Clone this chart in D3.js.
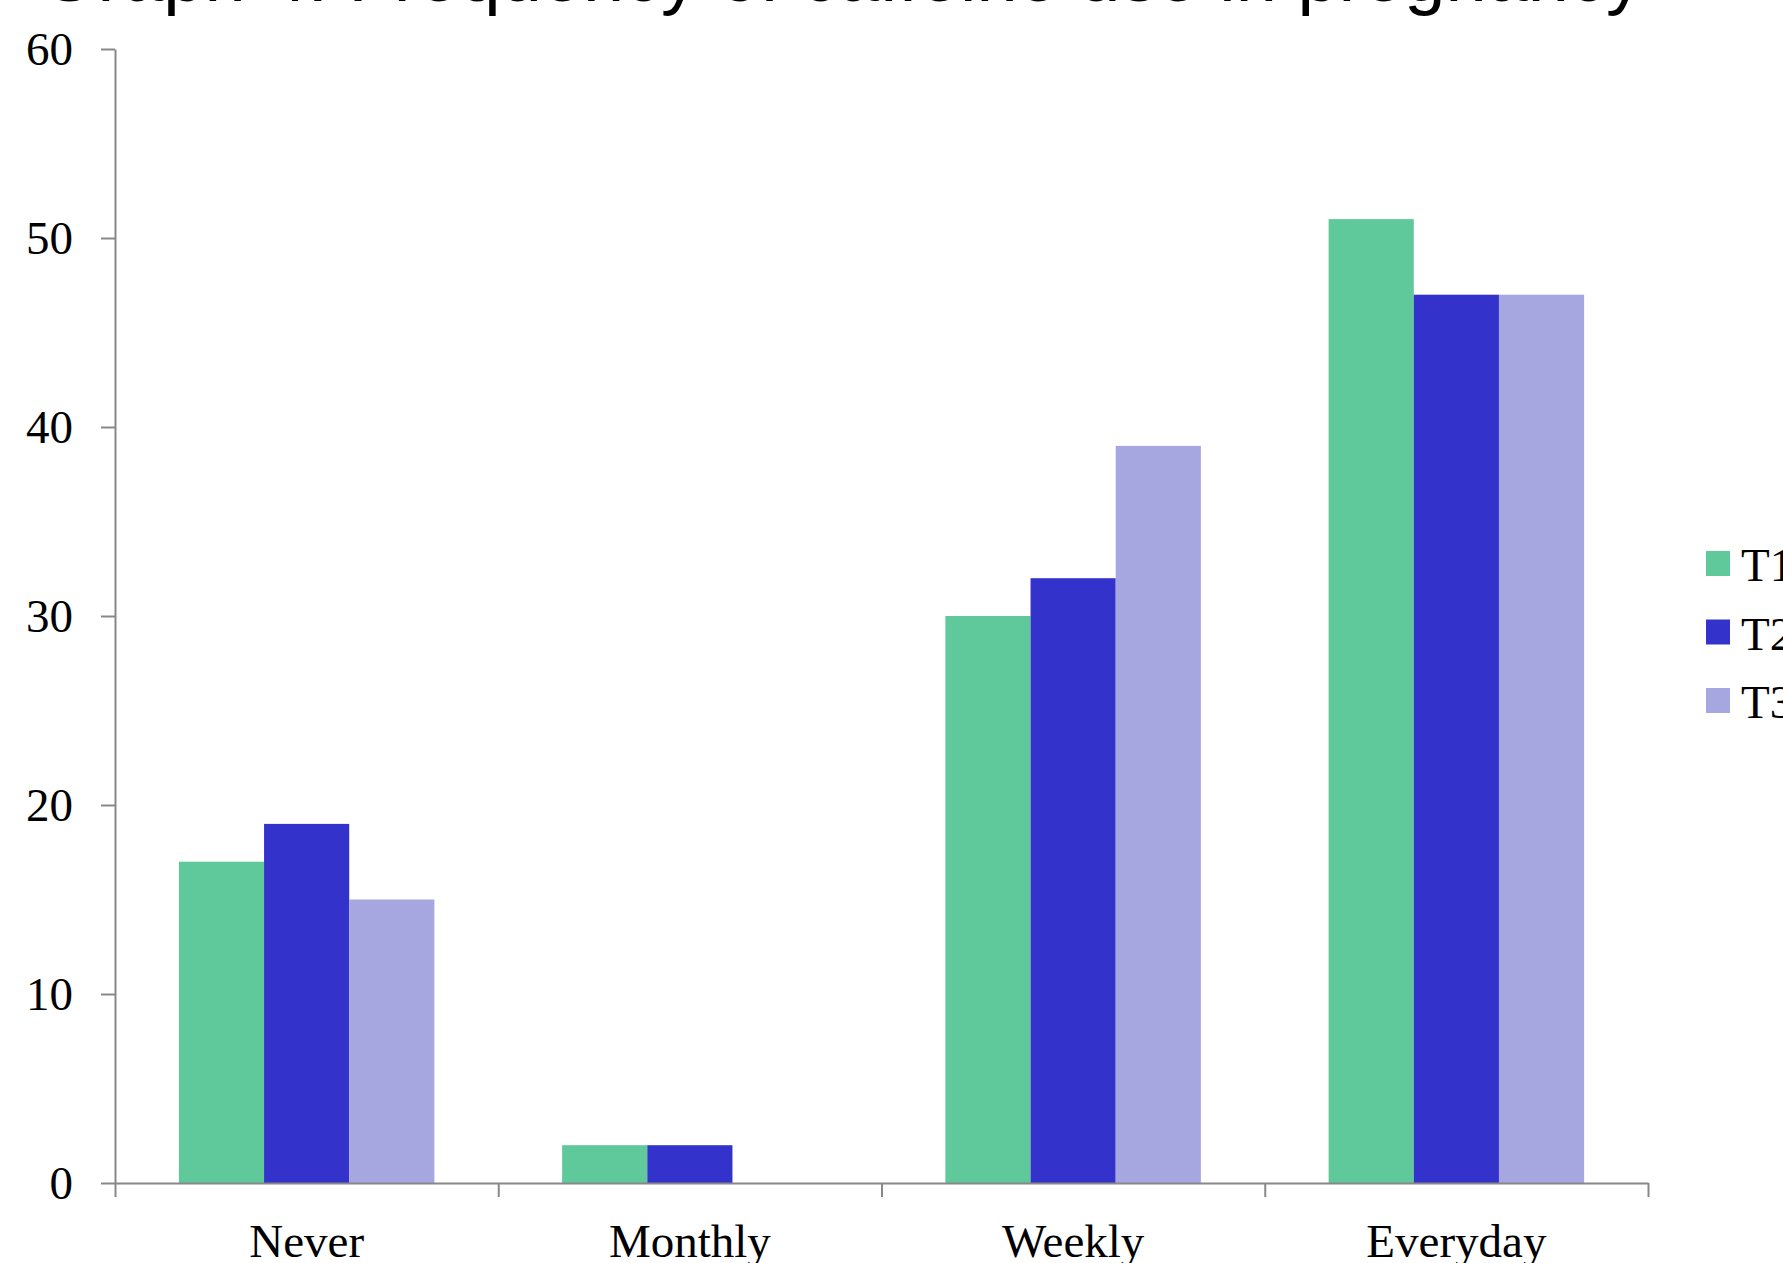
<!DOCTYPE html>
<html>
<head>
<meta charset="utf-8">
<script src="https://cdn.jsdelivr.net/npm/d3@7"></script>
<style>
	body { margin: 0; background: #ffffff; overflow: hidden; }
	svg { display: block; }
</style>
</head>
<body>
<div id="chartContainer"></div>
<script>
"use strict";

var categories = ["Never", "Monthly", "Weekly", "Everyday"];
var seriesNames = ["T1", "T2", "T3"];
var valuesT1 = [17, 2, 30, 51];
var valuesT2 = [19, 2, 32, 47];
var valuesT3 = [15, 0, 39, 47];
var yTicks = [0, 10, 20, 30, 40, 50, 60];
var colours = ["#60c99c", "#3333cc", "#a6a6e0"];
var titleText = "Graph 4: Frequency of caffeine use in pregnancy";

const width = 1783, height = 1263;
const margin = {left: 115, right: 135, top: 49, bottom: 80}; // plot area 115..1648 x 49..1183
const axisGrey = "#888888";
const serif = "'Liberation Serif', 'Times New Roman', serif";

let rows = categories.map((c, i) => ({
	category: c,
	values: [valuesT1[i], valuesT2[i], valuesT3[i]]
}));

let svg = d3.select("#chartContainer")
	.append("svg")
	.attr("width", width)
	.attr("height", height);

let x = d3.scaleBand()
	.domain(categories)
	.range([margin.left, width - margin.right])
	.padding(0);

let xSub = d3.scaleBand()
	.domain(seriesNames)
	.range([0, x.bandwidth()])
	.paddingInner(0)
	.paddingOuter(0.75);	// excel gap width 150%

let xEdges = d3.scaleLinear()	// for the tick marks between categories
	.domain([0, categories.length])
	.range([margin.left, width - margin.right]);

let y = d3.scaleLinear()
	.domain([0, 60])
	.range([height - margin.bottom, margin.top]);

// bars
svg.append("g")
	.selectAll("g")
	.data(rows)
	.enter()
	.append("g")
		.attr("transform", d => `translate(${x(d.category)},0)`)
	.selectAll("rect")
	.data(d => d.values.map((v, k) => ({series: seriesNames[k], value: v, k: k})))
	.enter()
	.append("rect")
		.attr("x", d => xSub(d.series))
		.attr("width", xSub.bandwidth())
		.attr("y", d => y(d.value))
		.attr("height", d => y(0) - y(d.value))
		.attr("fill", d => colours[d.k]);

// y axis
let yAxis = svg.append("g")
	.attr("transform", `translate(${margin.left},0)`)
	.call(d3.axisLeft(y).tickValues(yTicks).tickSize(14).tickSizeOuter(0).tickPadding(28));

// x axis, ticks at the category boundaries
let xAxis = svg.append("g")
	.attr("transform", `translate(0,${y(0)})`)
	.call(d3.axisBottom(xEdges).ticks(categories.length).tickFormat("").tickSize(14).tickSizeOuter(0));

let xLabels = svg.append("g")
	.attr("transform", `translate(0,${y(0)})`)
	.call(d3.axisBottom(x).tickSize(0).tickPadding(41));
xLabels.select(".domain").remove();

[yAxis, xAxis, xLabels].forEach((g) => {
	g.selectAll(".domain, line")
		.attr("stroke", axisGrey)
		.attr("stroke-width", 2);
	g.selectAll("text")
		.attr("fill", "#000000")
		.style("font-family", serif)
		.style("font-size", "47px");
});

// legend
let legend = svg.append("g")
	.selectAll("g")
	.data(seriesNames)
	.enter()
	.append("g")
		.attr("transform", (d, i) => `translate(1706,${551 + i * 68.5})`);

legend.append("rect")
	.attr("width", 24)
	.attr("height", 25)
	.attr("fill", (d, i) => colours[i]);

legend.append("text")
	.attr("x", 35)
	.attr("y", 30)
	.style("font-family", serif)
	.style("font-size", "47px")
	.attr("fill", "#000000")
	.text(d => d);

// title, cut off at the top like the original
svg.append("text")
	.attr("x", 40)
	.attr("y", 1)
	.style("font-family", "'Liberation Sans', Arial, sans-serif")
	.style("font-size", "74px")
	.attr("fill", "#000000")
	.text(titleText);
</script>
</body>
</html>
